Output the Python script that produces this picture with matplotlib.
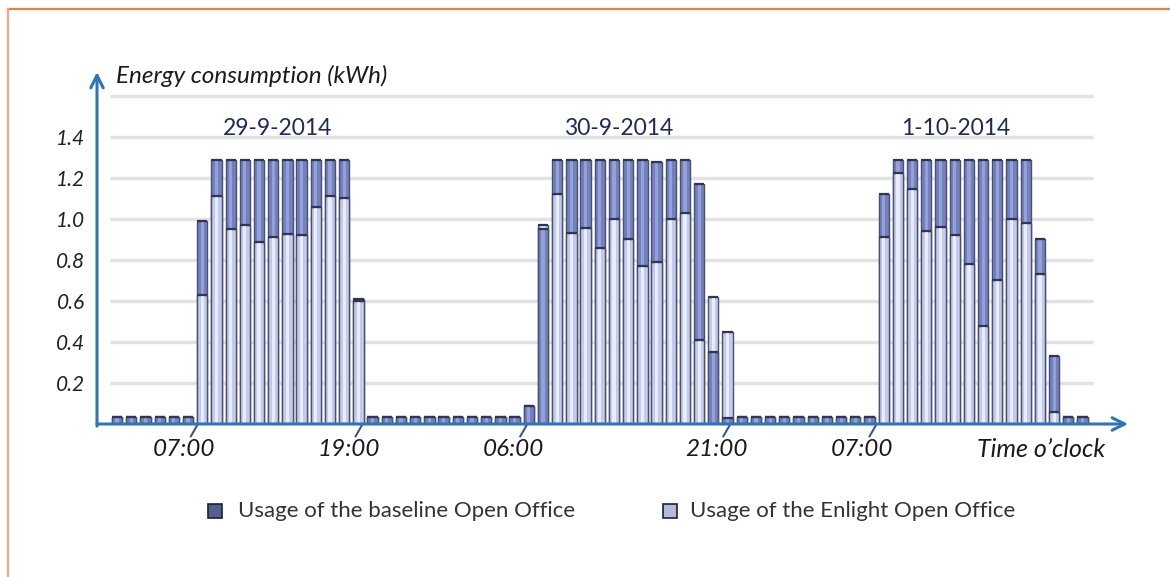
import numpy as np
import matplotlib.pyplot as plt
from matplotlib.patches import Rectangle
from matplotlib.lines import Line2D

plt.rcParams['font.family'] = ['Lato', 'DejaVu Sans']

# Hourly energy use (kWh), three working days shown back to back
idle = [0.035]
baseline = (idle * 6
            + [0.99, 1.29, 1.29, 1.29, 1.29, 1.29, 1.29, 1.29, 1.29, 1.29, 1.29, 0.61]
            + idle * 11
            + [0.09]
            + [0.95, 1.29, 1.29, 1.29, 1.29, 1.29, 1.29, 1.29, 1.28, 1.29, 1.29, 1.17, 0.35, 0.03]
            + idle * 10
            + [1.12, 1.29, 1.29, 1.29, 1.29, 1.29, 1.29, 1.29, 1.29, 1.29, 1.29, 0.90, 0.33]
            + idle * 2)
enlight = (idle * 6
           + [0.63, 1.11, 0.95, 0.97, 0.89, 0.91, 0.925, 0.92, 1.06, 1.11, 1.10, 0.60]
           + idle * 11
           + [0.09]
           + [0.97, 1.12, 0.93, 0.955, 0.86, 1.00, 0.90, 0.77, 0.79, 1.00, 1.03, 0.41, 0.62, 0.45]
           + idle * 10
           + [0.91, 1.225, 1.145, 0.94, 0.96, 0.92, 0.78, 0.48, 0.70, 1.00, 0.98, 0.73, 0.06]
           + idle * 2)

tick_pos = [5.7, 17.3, 28.9, 43.2, 53.5]
tick_labels = ['07:00', '19:00', '06:00', '21:00', '07:00']
day_pos = [11.3, 35.3, 59.1]
day_labels = ['29-9-2014', '30-9-2014', '1-10-2014']
y_ticks = [0.2, 0.4, 0.6, 0.8, 1.0, 1.2, 1.4]
grid_levels = [0.2, 0.4, 0.6, 0.8, 1.0, 1.2, 1.4, 1.6]

AXIS_BLUE = '#2e75b6'
DARK_FACE, DARK_SHINE = '#7180bf', '#95a1d6'
LIGHT_FACE, LIGHT_SHINE = '#c3cbec', '#e9edfb'
EDGE = '#4a5070'


def draw_bar(ax, x, h, face, shine, width=0.72):
    ax.bar(x, h, width=width, color=face, edgecolor=EDGE, linewidth=1.0, zorder=3)
    ax.bar(x, h, width=width * 0.32, color=shine, linewidth=0, zorder=3)
    # dark rim at the top of each bar
    ax.plot([x - width / 2, x + width / 2], [h, h], color='#2f3552', lw=1.6,
            solid_capstyle='butt', zorder=3)


def create_chart():
    fig = plt.figure(figsize=(11.7, 5.77), dpi=100)
    ax = fig.add_axes([97 / 1170, 1 - 424 / 577, (1128 - 97) / 1170, (424 - 72) / 577])
    ax.set_xlim(-1.41, 71.2)
    ax.set_ylim(0, 1.717)
    for s in ax.spines.values():
        s.set_visible(False)

    # light grey grid
    ax.hlines(grid_levels, -0.5, 68.7, color='#e2e2e2', lw=2.5, zorder=1)

    # overlapping bars: the larger value sits behind the smaller one
    for i, (b, e) in enumerate(zip(baseline, enlight)):
        if b > e:
            draw_bar(ax, i, b, DARK_FACE, DARK_SHINE)
            draw_bar(ax, i, e, LIGHT_FACE, LIGHT_SHINE)
        else:
            draw_bar(ax, i, e, LIGHT_FACE, LIGHT_SHINE)
            draw_bar(ax, i, b, DARK_FACE, DARK_SHINE)

    # axes as arrows
    arrow = dict(arrowstyle='->,head_length=0.9,head_width=0.45', color=AXIS_BLUE, lw=2.2,
                 shrinkA=0, shrinkB=0)
    ax.annotate('', xy=(0, 1), xytext=(0, -0.006), xycoords='axes fraction', arrowprops=arrow)
    ax.annotate('', xy=(1, 0), xytext=(0, 0), xycoords='axes fraction', arrowprops=arrow)

    ax.set_xticks([])
    ax.set_yticks(y_ticks)
    ax.set_yticklabels([f'{v:.1f}' for v in y_ticks], fontsize=15, style='italic', color='#222222')
    ax.tick_params(axis='y', length=0, pad=8.5)

    # slanted hour markers under the time axis
    for t, lab in zip(tick_pos, tick_labels):
        ax.add_line(Line2D([t, t - 0.5], [0, -0.06], color='#2a4f9a', lw=1.4, clip_on=False))
        ax.text(t - 1.0, -0.125, lab, ha='center', va='center', fontsize=17.5,
                style='italic', color='#1a1a1a')

    for d, lab in zip(day_pos, day_labels):
        ax.text(d, 1.44, lab, ha='center', va='center', fontsize=16.5, color='#1f2a5c')

    ax.text(-0.1, 1.70, 'Energy consumption (kWh)', ha='left', va='center', fontsize=17.5,
            style='italic', color='#1a1a1a')
    ax.text(65.1, -0.122, 'Time o\u2019clock', ha='center', va='center', fontsize=18,
            style='italic', color='#1a1a1a')

    # legend
    fig.patches.append(Rectangle((208 / 1170, 1 - 518 / 577), 14 / 1170, 14 / 577,
                                 transform=fig.transFigure, facecolor='#52628f',
                                 edgecolor='#1c2033', lw=1.2))
    fig.text(238 / 1170, 1 - 511 / 577, 'Usage of the baseline Open Office', ha='left',
             va='center', fontsize=16, color='#333333')
    fig.patches.append(Rectangle((663 / 1170, 1 - 518 / 577), 14 / 1170, 14 / 577,
                                 transform=fig.transFigure, facecolor='#b5b9de',
                                 edgecolor='#1c2033', lw=1.2))
    fig.text(690 / 1170, 1 - 511 / 577, 'Usage of the Enlight Open Office', ha='left',
             va='center', fontsize=16, color='#333333')

    # outer frame (top and left edges)
    fig.add_artist(Line2D([8 / 1170, 1], [1 - 9 / 577, 1 - 9 / 577], color='#ea7d48', lw=1.6,
                          transform=fig.transFigure))
    fig.add_artist(Line2D([8 / 1170, 8 / 1170], [0, 1 - 9 / 577], color='#f3a77f', lw=1.6,
                          transform=fig.transFigure))

    fig.savefig('out.png', dpi=100)
    plt.close(fig)


if __name__ == '__main__':
    create_chart()
